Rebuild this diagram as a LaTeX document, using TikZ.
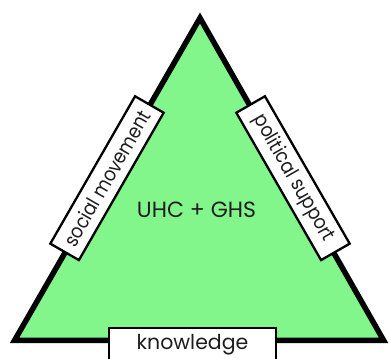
\documentclass[tikz,border=0pt]{standalone}
\usepackage{fontspec}
\setmainfont{Poppins}
\newfontfamily\narrowfont[FakeStretch=0.88]{Poppins}
\definecolor{trigreen}{RGB}{130,246,138}
\definecolor{txtgray}{RGB}{30,30,30}
\begin{document}
\begin{tikzpicture}[x=1pt,y=1pt,
  labelbox/.style={draw=black, fill=white, line width=2.3pt, minimum width=170pt, minimum height=33pt, inner sep=0pt, font=\fontsize{20.5}{20.5}\selectfont, text=txtgray},
  sidebox/.style={labelbox, font=\narrowfont\fontsize{20}{20}\selectfont},
  centertext/.style={font=\fontsize{22}{22}\selectfont, text=txtgray, inner sep=0pt}]
\useasboundingbox (0,0) rectangle (389,359);
\coordinate (apex) at (200,341);
\coordinate (bl) at (14.5,18.5);
\coordinate (br) at (383.7,18.5);
\draw[fill=trigreen, line width=5.5pt, miter limit=10, line join=miter] (apex) -- (bl) -- (br) -- cycle;
\node[centertext] (goal) at (196.5,149) {UHC + GHS};
\node[sidebox, rotate=60.1] (social) at (107,180.8) {social movement};
\node[sidebox, rotate=-60.1] (political) at (293,180.8) {political support};
\node[labelbox, minimum width=167pt] (knowledge) at (192.5,14.5) {knowledge};
\end{tikzpicture}
\end{document}
